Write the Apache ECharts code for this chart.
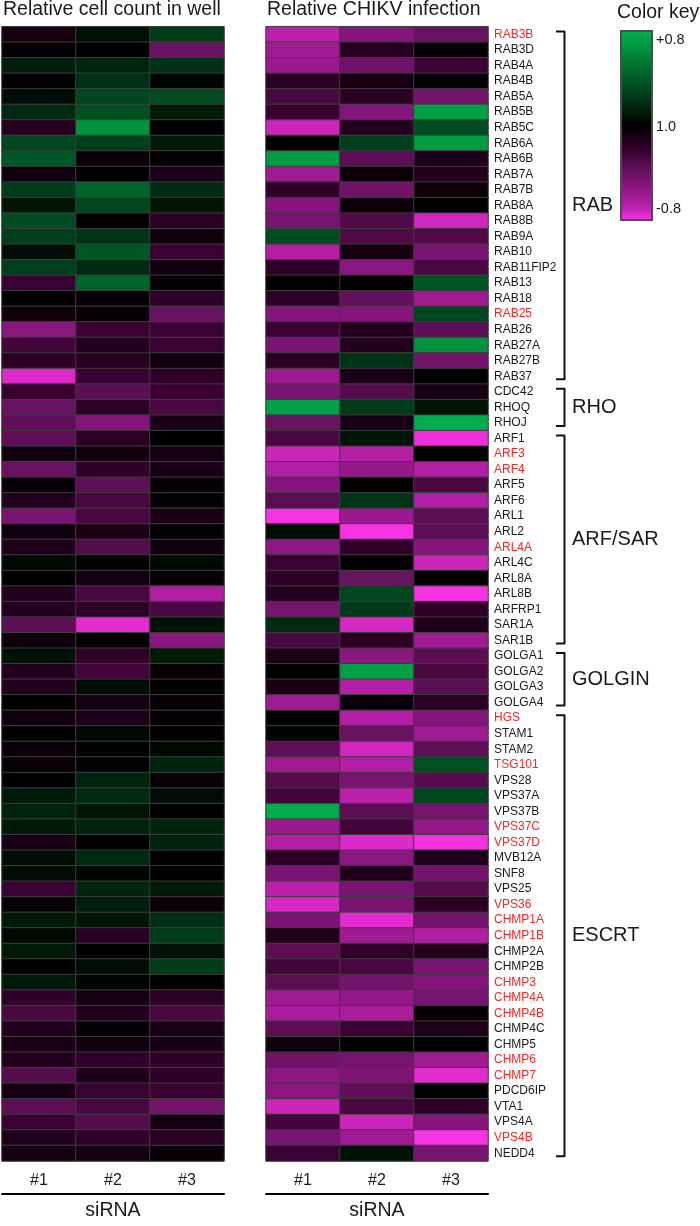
<!DOCTYPE html>
<html>
<head>
<meta charset="utf-8">
<script src="https://cdn.jsdelivr.net/npm/echarts@6/dist/echarts.min.js"></script>
<style>
html,body{margin:0;padding:0;background:#fff;}
#chart{width:700px;height:1226px;}
</style>
</head>
<body>
<div id="chart"></div>
<script>
const genes = ['RAB3B','RAB3D','RAB4A','RAB4B','RAB5A','RAB5B','RAB5C','RAB6A','RAB6B','RAB7A','RAB7B','RAB8A','RAB8B','RAB9A','RAB10','RAB11FIP2','RAB13','RAB18','RAB25','RAB26','RAB27A','RAB27B','RAB37',
'CDC42','RHOQ','RHOJ',
'ARF1','ARF3','ARF4','ARF5','ARF6','ARL1','ARL2','ARL4A','ARL4C','ARL8A','ARL8B','ARFRP1','SAR1A','SAR1B',
'GOLGA1','GOLGA2','GOLGA3','GOLGA4',
'HGS','STAM1','STAM2','TSG101','VPS28','VPS37A','VPS37B','VPS37C','VPS37D','MVB12A','SNF8','VPS25','VPS36','CHMP1A','CHMP1B','CHMP2A','CHMP2B','CHMP3','CHMP4A','CHMP4B','CHMP4C','CHMP5','CHMP6','CHMP7','PDCD6IP','VTA1','VPS4A','VPS4B','NEDD4'];

const redGenes = ['RAB3B','RAB25','ARF3','ARF4','ARL4A','HGS','TSG101','VPS37C','VPS37D','VPS36','CHMP1A','CHMP1B','CHMP3','CHMP4A','CHMP4B','CHMP6','CHMP7','VPS4B'];

const sirnas = ['#1','#2','#3'];

const groups = [
  ['RAB','RAB3B','RAB37'],
  ['RHO','CDC42','RHOJ'],
  ['ARF/SAR','ARF1','SAR1B'],
  ['GOLGIN','GOLGA1','GOLGA4'],
  ['ESCRT','HGS','NEDD4']
];

// Relative cell count in well (log scale, -0.8 .. +0.8)
const cell1 = [-0.08,-0.02,0.12,-0.02,0.05,0.17,-0.15,0.3,0.38,-0.06,0.25,0.08,0.33,0.27,0.05,0.27,-0.22,0,-0.06,-0.52,-0.25,-0.16,-0.75,
-0.22,-0.4,-0.36,
-0.36,-0.06,-0.4,-0.03,-0.14,-0.46,-0.06,-0.12,0.03,0,-0.14,-0.14,-0.35,-0.06,
0.07,-0.14,-0.14,0,
-0.06,0,-0.04,-0.04,0,0.1,0.15,0.1,-0.1,0.05,0.05,-0.22,-0.03,0.1,0.03,0.1,0,0.1,-0.18,-0.28,-0.14,-0.1,-0.14,-0.32,-0.08,-0.35,-0.22,-0.12,-0.08];
const cell2 = [0.07,0,0.15,0.2,0.3,0.35,0.65,0.27,-0.05,0,0.45,0.3,0,0.22,0.38,0.17,0.45,-0.03,-0.03,-0.22,-0.14,-0.15,-0.22,
-0.35,-0.16,-0.5,
-0.16,-0.06,-0.18,-0.36,-0.28,-0.28,-0.1,-0.32,0.01,-0.08,-0.28,-0.18,-0.76,0,
-0.18,-0.25,0.05,-0.08,
-0.12,0.03,0,0.01,0.15,0.17,0.08,0.14,0,0.17,0.02,0.15,0.12,0.08,-0.16,0,0.05,0.02,-0.08,-0.12,-0.03,-0.06,-0.18,-0.12,-0.22,-0.28,-0.32,-0.18,-0.08];
const cell3 = [0.25,-0.4,0.2,0.02,0.33,0.1,0,0.1,0,-0.12,0.17,0.08,-0.16,-0.06,-0.22,-0.06,-0.02,-0.18,-0.4,-0.22,-0.22,-0.06,-0.18,
-0.22,-0.27,-0.1,
0,-0.08,-0.1,-0.03,-0.02,-0.1,-0.02,-0.06,0.03,-0.03,-0.66,-0.28,0.07,-0.52,
0.1,-0.03,0,-0.03,
-0.03,0,0.03,0.14,-0.03,0.05,0,0.15,0.14,0,0,0.1,-0.05,0.2,0.25,0.07,0.25,0,-0.16,-0.28,-0.1,-0.1,-0.18,-0.18,-0.22,-0.44,-0.08,-0.16,-0.03];

// Relative CHIKV infection
const inf1 = [-0.68,-0.6,-0.58,-0.16,-0.28,-0.22,-0.72,0,0.7,-0.6,-0.18,-0.5,-0.45,0.33,-0.66,-0.18,0,-0.18,-0.5,-0.22,-0.46,-0.16,-0.58,
-0.46,0.73,-0.4,
-0.28,-0.72,-0.66,-0.5,-0.34,-0.8,0.05,-0.53,-0.22,-0.18,-0.14,-0.45,0.17,-0.28,
-0.1,0,-0.1,-0.6,
0,0.02,-0.36,-0.6,-0.32,-0.25,0.78,-0.58,-0.66,-0.16,-0.46,-0.68,-0.74,-0.46,-0.12,-0.35,-0.25,-0.35,-0.6,-0.63,-0.35,-0.06,-0.42,-0.52,-0.52,-0.72,-0.25,-0.45,-0.22];
const inf2 = [-0.5,-0.15,-0.42,-0.08,-0.16,-0.5,-0.14,0.27,-0.35,-0.05,-0.42,-0.05,-0.3,-0.3,-0.08,-0.52,0,-0.38,-0.5,-0.14,-0.14,0.22,-0.1,
-0.32,0.25,-0.1,
0.08,-0.66,-0.56,0,0.22,-0.58,-0.8,-0.18,-0.01,-0.4,0.3,0.24,-0.74,-0.16,
-0.52,0.72,-0.66,-0.04,
-0.66,-0.4,-0.73,-0.66,-0.45,-0.68,-0.35,-0.25,-0.75,-0.52,-0.12,-0.46,-0.46,-0.76,-0.6,-0.18,-0.28,-0.44,-0.56,-0.63,-0.22,0,-0.45,-0.48,-0.36,-0.28,-0.72,-0.6,0.07];
const inf3 = [-0.4,-0.03,-0.22,-0.02,-0.44,0.72,0.33,0.7,-0.12,-0.14,-0.05,0,-0.73,-0.3,-0.46,-0.28,0.37,-0.6,0.3,-0.35,0.65,-0.44,0,
-0.1,0.08,0.78,
-0.78,0,-0.66,-0.28,-0.66,-0.35,-0.35,-0.5,-0.72,0,-0.8,-0.18,-0.12,-0.6,
-0.35,-0.28,-0.35,-0.16,
-0.5,-0.6,-0.36,0.35,-0.32,0.3,-0.45,-0.56,-0.79,-0.12,-0.44,-0.32,-0.16,-0.44,-0.66,-0.14,-0.46,-0.5,-0.45,-0.03,-0.12,-0.02,-0.6,-0.76,0,-0.18,-0.5,-0.8,-0.45];

const colorStops = ['#f833e4','#c022b0','#a01a92','#85157c','#681262','#500a48','#34002c','#1a0016','#000000','#001a08','#003015','#00461e','#005a26','#00702e','#008838','#009c42','#00b04c'];

function toCells(cols) {
  const out = [];
  cols.forEach((col, x) => col.forEach((v, y) => out.push([x, y, v])));
  return out;
}

const FONT = "'Liberation Sans', Arial, Helvetica, sans-serif";
const chart = echarts.init(document.getElementById('chart'), null, {renderer: 'canvas'});

const gridTop = 26.7, gridH = 1141;

function xAxes(gridIndex) {
  return [
    {type:'category', gridIndex, data:sirnas, position:'bottom',
     axisLine:{show:false}, axisTick:{show:false}, splitLine:{show:false},
     axisLabel:{fontSize:16, margin:12, color:'#1a1a1a', fontFamily:FONT}},
  ];
}
function underline(gridIndex) {
  return {type:'category', gridIndex, data:sirnas, position:'bottom', offset:33,
    axisLine:{show:true, lineStyle:{color:'#000', width:2}}, axisTick:{show:false},
    axisLabel:{show:false}, splitLine:{show:false},
    name:'siRNA', nameLocation:'middle', nameGap:7,
    nameTextStyle:{fontSize:19.5, color:'#1a1a1a', fontFamily:FONT}};
}

const option = {
  animation:false,
  backgroundColor:'#ffffff',
  textStyle:{fontFamily:FONT},
  title:[
    {text:'Relative cell count in well', left:3, top:0, padding:0,
     textStyle:{fontSize:19.5, fontWeight:'normal', color:'#1a1a1a', fontFamily:FONT}},
    {text:'Relative CHIKV infection', left:267, top:0, padding:0,
     textStyle:{fontSize:19.5, fontWeight:'normal', color:'#1a1a1a', fontFamily:FONT}}
  ],
  grid:[
    {left:2, top:gridTop, width:222, height:gridH, containLabel:false},
    {left:266, top:gridTop, width:222, height:gridH, containLabel:false}
  ],
  xAxis:[...xAxes(0), ...xAxes(1), underline(0), underline(1)],
  yAxis:[
    {type:'category', gridIndex:0, data:genes, inverse:true,
     axisLine:{show:false}, axisTick:{show:false}, axisLabel:{show:false}, splitLine:{show:false}},
    {type:'category', gridIndex:1, data:genes, inverse:true, position:'right',
     axisLine:{show:false}, axisTick:{show:false}, splitLine:{show:false},
     axisLabel:{show:true, fontSize:12, margin:6, fontFamily:FONT, interval:0,
       color:function(v){ return redGenes.indexOf(v) >= 0 ? '#f52525' : '#1a1a1a'; }}}
  ],
  visualMap:{
    type:'continuous', min:-0.8, max:0.8, seriesIndex:[0,1], calculable:false,
    orient:'vertical', left:621, top:31, itemWidth:31, itemHeight:189, padding:0,
    inRange:{color:colorStops}
  },
  series:[
    {type:'heatmap', name:'Relative cell count in well', xAxisIndex:0, yAxisIndex:0,
     data:toCells([cell1, cell2, cell3]),
     itemStyle:{borderColor:'#3d3d3d', borderWidth:1}, emphasis:{disabled:true}},
    {type:'heatmap', name:'Relative CHIKV infection', xAxisIndex:1, yAxisIndex:1,
     data:toCells([inf1, inf2, inf3]),
     itemStyle:{borderColor:'#3d3d3d', borderWidth:1}, emphasis:{disabled:true}}
  ]
};
chart.setOption(option);

// Brackets and group labels derived from the y axis scale
const graphics = [];
const bx = 564.5, tick = 8.5;
groups.forEach(([name, first, last]) => {
  const y0 = chart.convertToPixel({yAxisIndex:1}, first) - 3;
  const y1 = chart.convertToPixel({yAxisIndex:1}, last) + 3;
  graphics.push({type:'polyline', z:100,
    shape:{points:[[bx - tick, y0], [bx, y0], [bx, y1], [bx - tick, y1]]},
    style:{stroke:'#111', lineWidth:2, fill:null, lineJoin:'round'}});
  graphics.push({type:'text', z:100, x:572, y:(y0 + y1) / 2,
    style:{text:name, fill:'#1a1a1a', font:'20px ' + FONT, verticalAlign:'middle', align:'left'}});
});
// Color key decorations
graphics.push({type:'rect', z:100, shape:{x:621, y:31, width:31, height:189},
  style:{fill:null, stroke:'#4d4d4d', lineWidth:2}});
graphics.push({type:'text', z:100, x:617, y:13,
  style:{text:'Color key', fill:'#1a1a1a', font:'19.5px ' + FONT, verticalAlign:'middle', align:'left'}});
[['+0.8', 40], ['1.0', 126.5], ['-0.8', 209]].forEach(([t, y]) => {
  graphics.push({type:'text', z:100, x:656, y:y,
    style:{text:t, fill:'#1a1a1a', font:'14.5px ' + FONT, verticalAlign:'middle', align:'left'}});
});
chart.setOption({graphic:graphics});
</script>
</body>
</html>
